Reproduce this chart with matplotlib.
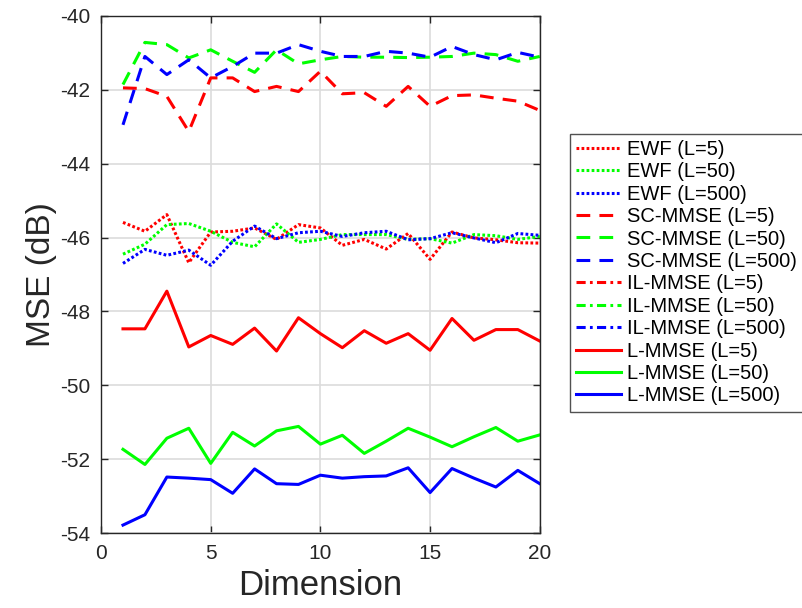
import matplotlib
matplotlib.use("Agg")
import matplotlib.pyplot as plt
import numpy as np

plt.rcParams['font.family'] = ['Liberation Sans', 'DejaVu Sans']
plt.rcParams['axes.unicode_minus'] = False

dims = list(range(1, 21))

ewf_5 = [-45.59, -45.83, -45.38, -46.68, -45.85, -45.83, -45.74, -46.05, -45.65, -45.74,
         -46.21, -46.05, -46.31, -45.89, -46.59, -45.85, -46.01, -46.06, -46.14, -46.15]
ewf_50 = [-46.45, -46.18, -45.65, -45.62, -45.83, -46.13, -46.25, -45.63, -46.13, -46.05,
          -45.92, -45.92, -45.92, -46.05, -46.03, -46.15, -45.92, -45.95, -46.05, -45.97]
ewf_500 = [-46.70, -46.32, -46.48, -46.34, -46.75, -46.10, -45.69, -46.03, -45.87, -45.83,
           -45.97, -45.87, -45.83, -46.06, -46.03, -45.87, -46.01, -46.14, -45.89, -45.94]

sc_5 = [-41.95, -41.97, -42.18, -43.13, -41.68, -41.68, -42.05, -41.91, -42.05, -41.50,
        -42.11, -42.08, -42.45, -41.91, -42.45, -42.16, -42.14, -42.23, -42.31, -42.56]
sc_50 = [-41.86, -40.72, -40.78, -41.14, -40.92, -41.23, -41.53, -40.92, -41.30, -41.19,
         -41.10, -41.12, -41.12, -41.13, -41.12, -41.10, -41.01, -41.05, -41.23, -41.10]
sc_500 = [-42.95, -41.10, -41.59, -41.19, -41.68, -41.37, -41.01, -41.01, -40.78, -40.96,
          -41.10, -41.10, -40.96, -41.01, -41.12, -40.83, -41.05, -41.19, -40.99, -41.12]

# IL-MMSE curves are listed in the legend but not visible in the plot
il_5 = []
il_50 = []
il_500 = []

l_5 = [-48.47, -48.47, -47.45, -48.96, -48.65, -48.89, -48.45, -49.07, -48.17, -48.60,
       -48.98, -48.52, -48.86, -48.60, -49.05, -48.19, -48.78, -48.49, -48.49, -48.80]
l_50 = [-51.73, -52.14, -51.43, -51.16, -52.11, -51.27, -51.64, -51.23, -51.11, -51.59,
        -51.35, -51.84, -51.51, -51.16, -51.40, -51.66, -51.39, -51.14, -51.51, -51.34]
l_500 = [-53.78, -53.50, -52.48, -52.51, -52.55, -52.92, -52.26, -52.66, -52.68, -52.43,
         -52.51, -52.47, -52.45, -52.23, -52.90, -52.25, -52.51, -52.75, -52.30, -52.66]

labels_L = ['5', '50', '500']
colors = ['#ff0000', '#00ff00', '#0000ff']

fig = plt.figure(figsize=(8.02, 6.08), dpi=100)
ax = fig.add_axes([0.126, 0.123, 0.547, 0.851])

lw = 2.2
dot = (0, (0.9, 0.75))
dash = (0, (4.5, 3.0))
dashdot = (0, (3.0, 1.4, 0.9, 1.4))

for vals, c, L in zip([ewf_5, ewf_50, ewf_500], colors, labels_L):
    ax.plot(dims, vals, color=c, lw=lw, linestyle=dot, label=f'EWF (L={L})')
for vals, c, L in zip([sc_5, sc_50, sc_500], colors, labels_L):
    ax.plot(dims, vals, color=c, lw=lw, linestyle=dash, label=f'SC-MMSE (L={L})')
for vals, c, L in zip([il_5, il_50, il_500], colors, labels_L):
    ax.plot(dims[:len(vals)], vals, color=c, lw=lw, linestyle=dashdot, label=f'IL-MMSE (L={L})')
for vals, c, L in zip([l_5, l_50, l_500], colors, labels_L):
    ax.plot(dims, vals, color=c, lw=lw, linestyle='-', label=f'L-MMSE (L={L})')

ax.set_xlim(0, 20)
ax.set_ylim(-54, -40)
ax.set_xticks([0, 5, 10, 15, 20])
ax.set_yticks(np.arange(-54, -39, 2))
ax.grid(True, color='#dcdcdc', lw=1.2)
ax.set_axisbelow(True)
ax.tick_params(direction='in', top=True, right=True, labelsize=15, length=5,
               width=1, colors='#262626', pad=8)
for s in ax.spines.values():
    s.set_color('#262626')
    s.set_linewidth(1)
ax.set_xlabel('Dimension', fontsize=25, color='#262626', labelpad=4)
ax.set_ylabel('MSE (dB)', fontsize=24, color='#262626', labelpad=2)

leg = ax.legend(loc='upper left', bbox_to_anchor=(1.068, 0.772), fontsize=14.5,
                frameon=True, fancybox=False, edgecolor='#262626',
                handlelength=2.24, handletextpad=0.3, labelspacing=0.17,
                borderpad=0.3, borderaxespad=0.0)
leg.get_frame().set_linewidth(1.0)

fig.savefig('out.png', dpi=100)
